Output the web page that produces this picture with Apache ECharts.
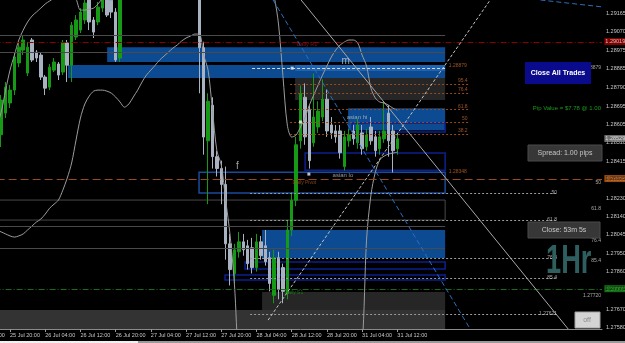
<!DOCTYPE html>
<html><head><meta charset="utf-8">
<script src="https://cdn.jsdelivr.net/npm/echarts@6/dist/echarts.min.js"></script>
<style>html,body{margin:0;padding:0;background:#000;}#c{width:625px;height:343px;}</style>
</head><body><div id="c"></div>
<script>
// ---------- DATA ----------
const xTickLabels = ['25 Jul 12:00','25 Jul 20:00','26 Jul 04:00','26 Jul 12:00','26 Jul 20:00','27 Jul 04:00','27 Jul 12:00','27 Jul 20:00','28 Jul 04:00','28 Jul 12:00','28 Jul 20:00','31 Jul 04:00','31 Jul 12:00'];
const yTicks = [1.29165,1.29070,1.28975,1.28885,1.28790,1.28695,1.28605,1.28510,1.28415,1.28325,1.28230,1.28140,1.28045,1.27950,1.27860,1.27770,1.27670,1.27580];
const openP = [1.28560,1.28600,1.28580,1.28620,1.28590,1.28560,1.28551,1.28660,1.28711,1.28776,
 1.28913,1.28978,1.28862,1.29029,1.28968,1.28953,1.28842,1.28791,1.28877,1.28908,
 1.28867,1.29014,1.28902,1.29044,1.29079,1.29130,1.29241,1.29130,1.29120,1.29190,
 1.29246,1.29230,1.29170,1.28938,1.29300,1.29350,1.29330,1.29400,1.29450,1.29420,
 1.29480,1.29520,1.29490,1.29530,1.29560,1.29510,1.29470,1.29500,1.29460,1.29440,
 1.29470,1.29420,1.28990,1.28520,1.28700,1.28440,1.28380,1.28300,1.28000,1.27850,
 1.27960,1.28010,1.27990,1.27980,1.27880,1.28010,1.27990,1.27930,1.27740,1.27930,
 1.27880,1.27750,1.28070,1.28220,1.28520,1.28740,1.28680,1.28510,1.28590,1.28640,
 1.28730,1.28600,1.28570,1.28570,1.28390,1.28520,1.28570,1.28510,1.28560,1.28490,
 1.28590,1.28540,1.28480,1.28530,1.28660,1.28570,1.28480];
const closeP = [1.28600,1.28580,1.28620,1.28590,1.28560,1.28550,1.28726,1.28791,1.28776,1.28943,
 1.28993,1.29029,1.28993,1.28928,1.28938,1.28842,1.28786,1.28892,1.28918,1.28852,
 1.29014,1.28902,1.29104,1.29130,1.29170,1.29216,1.29120,1.29069,1.29195,1.29256,
 1.29155,1.29170,1.28928,1.29307,1.29350,1.29330,1.29400,1.29450,1.29420,1.29480,
 1.29520,1.29490,1.29530,1.29560,1.29510,1.29470,1.29500,1.29460,1.29440,1.29470,
 1.29420,1.28990,1.28539,1.28720,1.28440,1.28380,1.28300,1.28000,1.27870,1.27970,
 1.28010,1.27970,1.27900,1.27880,1.28010,1.27940,1.27910,1.27800,1.27930,1.27770,
 1.27760,1.28070,1.28220,1.28500,1.28760,1.28540,1.28420,1.28640,1.28670,1.28730,
 1.28570,1.28560,1.28540,1.28460,1.28540,1.28550,1.28530,1.28600,1.28480,1.28550,
 1.28520,1.28470,1.28540,1.28570,1.28520,1.28470,1.28530];
const highP = [1.28620,1.28630,1.28650,1.28640,1.28610,1.28590,1.28751,1.28817,1.28802,1.28968,
 1.29014,1.29054,1.29019,1.29039,1.28978,1.28968,1.28852,1.28908,1.28938,1.28918,
 1.29029,1.29029,1.29120,1.29155,1.29190,1.29256,1.29260,1.29145,1.29221,1.29280,
 1.29270,1.29256,1.29190,1.29330,1.29380,1.29390,1.29420,1.29480,1.29490,1.29510,
 1.29550,1.29560,1.29570,1.29590,1.29600,1.29540,1.29530,1.29520,1.29490,1.29500,
 1.29490,1.29440,1.29020,1.28760,1.28740,1.28470,1.28420,1.28390,1.28050,1.28000,
 1.28060,1.28050,1.28020,1.28030,1.28050,1.28040,1.28070,1.27960,1.27970,1.27960,
 1.27900,1.28120,1.28260,1.28540,1.28800,1.28810,1.28700,1.28860,1.28720,1.28830,
 1.28780,1.28640,1.28600,1.28600,1.28570,1.28580,1.28600,1.28630,1.28600,1.28580,
 1.28640,1.28570,1.28570,1.28720,1.28700,1.28600,1.28560];
const lowP = [1.28530,1.28550,1.28560,1.28560,1.28520,1.28510,1.28489,1.28635,1.28685,1.28751,
 1.28892,1.28953,1.28847,1.28918,1.28918,1.28827,1.28751,1.28776,1.28867,1.28827,
 1.28852,1.28817,1.28817,1.29029,1.29064,1.29110,1.29079,1.29039,1.29104,1.29170,
 1.29145,1.29140,1.28918,1.28918,1.29270,1.29290,1.29300,1.29370,1.29390,1.29400,
 1.29450,1.29460,1.29470,1.29500,1.29480,1.29440,1.29430,1.29420,1.29400,1.29410,
 1.29380,1.28760,1.28450,1.28200,1.28380,1.28340,1.28200,1.27920,1.27790,1.27800,
 1.27930,1.27940,1.27870,1.27850,1.27860,1.27920,1.27890,1.27760,1.27700,1.27720,
 1.27700,1.27720,1.28040,1.28190,1.28480,1.28500,1.28380,1.28490,1.28560,1.28620,
 1.28540,1.28530,1.28510,1.28430,1.28370,1.28490,1.28500,1.28480,1.28450,1.28470,
 1.28500,1.28440,1.28450,1.28510,1.28440,1.28360,1.28450];
const bbUpper = [1.28500,1.28510,1.28520,1.28540,1.28570,1.28600,1.28665,1.28776,1.28877,1.28953,
 1.29029,1.29079,1.29120,1.29150,1.29170,1.29190,1.29211,1.29226,1.29240,1.29250,
 1.29255,1.29258,1.29250,1.29235,1.29180,1.29180,1.29185,1.29190,1.29211,1.29240,
 1.29270,1.29300,1.29320,1.29350,1.29380,1.29420,1.29460,1.29500,1.29540,1.29570,
 1.29600,1.29630,1.29650,1.29670,1.29690,1.29700,1.29710,1.29715,1.29720,1.29720,
 1.29720,1.29730,1.29760,1.29780,1.29790,1.29800,1.29800,1.29790,1.29780,1.29760,
 1.29740,1.29710,1.29680,1.29640,1.29580,1.29500,1.29383,1.29320,1.29250,1.29110,
 1.28850,1.28600,1.28539,1.28549,1.28590,1.28635,1.28700,1.28751,1.28802,1.28852,
 1.28898,1.28943,1.28978,1.29004,1.29019,1.29029,1.29029,1.29014,1.28953,1.28898,
 1.28786,1.28736,1.28716,1.28711,1.28700,1.28685,1.28675];
const bbLower = [1.28150,1.28130,1.28110,1.28090,1.28080,1.28070,1.28060,1.28050,1.28040,1.28034,
 1.28040,1.28050,1.28070,1.28090,1.28110,1.28125,1.28150,1.28180,1.28200,1.28221,
 1.28271,1.28332,1.28408,1.28524,1.28635,1.28706,1.28746,1.28771,1.28776,1.28776,
 1.28771,1.28761,1.28741,1.28716,1.28690,1.28706,1.28741,1.28776,1.28817,1.28852,
 1.28877,1.28902,1.28928,1.28948,1.28968,1.28988,1.29004,1.29024,1.29039,1.29049,
 1.29059,1.29059,1.28953,1.28877,1.28675,1.28470,1.28398,1.28221,1.28044,1.27792,
 1.27413,1.27380,1.27360,1.27350,1.27340,1.27330,1.27320,1.27310,1.27300,1.27290,
 1.27280,1.27290,1.27300,1.27320,1.27330,1.27340,1.27350,1.27360,1.27370,1.27380,
 1.27390,1.27400,1.27410,1.27420,1.27430,1.27440,1.27450,1.27460,1.27490,1.28019,
 1.28246,1.28362,1.28423,1.28443,1.28453,1.28458,1.28463];

// zones: [barFrom, barTo, priceTop, priceBottom]
const blueZones = [[30.07,106.86,1.28993,1.28918],[21.18,106.86,1.28903,1.28837],[84.82,106.86,1.28685,1.28574],[65.27,106.86,1.28070,1.27928]];
const blueZoneLight = [[72.77,106.86,1.28903,1.28872]];
const grayZones = [[-0.5,106.86,1.27666,1.27570],[72.77,106.86,1.28837,1.28726],[65.27,106.86,1.27757,1.27666]];
const navyBoxes = [[85.73,106.86,1.28610,1.28564],[75.05,106.86,1.28458,1.28372],[61.41,106.86,1.27908,1.27873],[56.86,106.86,1.27842,1.27817]];
const blueBoxes = [[50.95,106.86,1.28362,1.28256]];
const grayBoxes = [[-0.5,106.86,1.28221,1.28120]];
const grayLevels = [1.29054,1.28968,1.28090,1.27979];
const fibUpper = [1.28807,1.28761,1.28680,1.28615,1.28554];
const fibUpperText = ['95.4','76.4','61.8','50','38.2'];
const fibLowA = [1.28256,1.28120,1.27928,1.27827,1.27646];
const fibLowAText = ['50','61.8','76.4','85.4','1.27621'];
const fibLowB = [1.28307,1.28176,1.28014,1.27913,1.27736];
const fibLowBText = ['50','61.8','76.4','85.4','1.27720'];
const level28879 = 1.28887;
const tagPrices = [1.29019,1.28529,1.28327,1.27771];
const tagTexts = ['1.29019','1.28529','1.28325','1.27771'];
// trend lines: [bar1, price1, bar2, price2]
const trendGray = [[74.14,1.29231,134.82,1.27570]];
const trendDash = [[66.64,1.27615,117.09,1.29231]];
const trendBlue = [[67.77,1.29231,112.55,1.27570],[128.5,1.29231,142.6,1.29196]];
const notesBig = [[84.4,1.28917,'m'],[59.8,1.28388,'f']];
const notesGray = [[84.6,1.28635,'asian hi'],[81.4,1.28342,'asian lo']];
const notesOrange = [[107.8,1.28897,'1.28879'],[107.8,1.28362,'1.28348']];
const notePivot = [[72.3,1.28307,'Daily Pivot']];
const noteR1 = [[73.2,1.29004,'Daily R1']];
const noteS1 = [[70.5,1.27752,'Daily S1']];
const markers = [[72.1,1.28887],[74.0,1.28615],[75.9,1.28352]];

// ---------- CHART ----------
const N = 143, LAST = 96;
const FONT = 'Liberation Sans';
const cats = Array.from({length:N}, (_, i) => String(i));
const candles = openP.map((o, i) => [o, closeP[i], lowP[i], highP[i]]);
const X0 = -0.5, XR = 106.86, XEND = N - 0.5;
const CLEAR = 'rgba(0,0,0,0)';

const area = (list, style) => list.map(z => [{coord:[z[0], z[2]], itemStyle:style}, {coord:[z[1], z[3]]}]);
const seg = (x1, x2, p, style) => [{coord:[x1, p], lineStyle:style}, {coord:[x2, p]}];

const zoneData = [].concat(
  area(grayZones.slice(0,1), {color:'#333333'}),
  area(grayZones.slice(1), {color:'#262626'}),
  area(blueZones, {color:'#0c4b91'}),
  area(blueZoneLight, {color:'#1f62b0'}),
  area(navyBoxes, {color:CLEAR, borderColor:'#0d1f8f', borderWidth:1.5}),
  area(blueBoxes, {color:CLEAR, borderColor:'#1a4a9a', borderWidth:1.5}),
  area(grayBoxes, {color:CLEAR, borderColor:'#484848', borderWidth:1})
);

const hData = [].concat(
  grayLevels.map(p => seg(X0, XR, p, {color:'#4a4a4a', width:1, type:'solid'})),
  fibUpper.map(p => seg(71.64, 112.09, p, {color:'#9a4a18', width:1, type:[2,2]})),
  fibLowA.map(p => seg(62.55, 132.0, p, {color:'#9a9a9a', width:1, type:[2,2]})),
  fibLowB.map(p => seg(68.91, 142.55, p, {color:'#9a9a9a', width:1, type:[2,2]})),
  [seg(63.0, XR, level28879, {color:'#d8d8d8', width:1, type:[3,2]})],
  [seg(XR, 142.55, level28879, {color:'#8a8a8a', width:1, type:[2,2]})],
  [seg(X0, XEND, tagPrices[0], {color:'#8a0000', width:1, type:[6,2,1,2]})],
  [seg(X0, XEND, tagPrices[2], {color:'#9a4a1a', width:1, type:[8,4]})],
  [seg(X0, XEND, tagPrices[3], {color:'#1a6a1a', width:1, type:[6,2,1,2]})]
);

const tagStyles = [
  {backgroundColor:'#a00000', color:'#e8e8e8'},
  {backgroundColor:'#8c8c8c', color:'#f0f0f0'},
  {backgroundColor:'#c0601a', color:'#1a1a1a'},
  {backgroundColor:'#1a8a1a', color:'#101010'}
];

function textSeries(items, lab, z) {
  return {type:'scatter', xAxisIndex:1, yAxisIndex:0, z:z||7, silent:true, clip:false, symbolSize:1, itemStyle:{color:CLEAR},
    data: items.map(d => ({value:[d[0], d[1]], label:Object.assign({formatter:d[2]}, d[3] || {})})),
    label:Object.assign({show:true, position:[0,0], fontFamily:FONT, align:'left', verticalAlign:'middle'}, lab)};
}
function lineSeries(list, style) {
  return list.map(l => ({type:'line', xAxisIndex:1, yAxisIndex:0, z:5, silent:true, showSymbol:false,
    data:[[l[0], l[1]], [l[2], l[3]]], lineStyle:style}));
}
const fibLabel = (vals, texts, x) => vals.map((p, k) => [x, p, texts[k]]);
const tagItems = tagPrices.map((p, k) => [143.15, p, tagTexts[k], tagStyles[k]]);

const option = {
  animation:false,
  backgroundColor:'#000',
  grid:{left:-27.4, right:23, top:0, bottom:14, containLabel:false, outerBoundsMode:'none'},
  xAxis:[
    {type:'category', data:cats, boundaryGap:true,
     axisLine:{show:true, lineStyle:{color:'#8a8a8a'}},
     axisTick:{show:true, alignWithLabel:true, length:3, interval:(i)=> i%8===0 && i<=LAST, lineStyle:{color:'#9a9a9a'}},
     axisLabel:{interval:(i)=> i%8===0 && i<=LAST, formatter:(v,i)=> xTickLabels[i/8] || '', align:'left', color:'#c8c8c8', fontSize:5.5, fontFamily:FONT, margin:3},
     splitLine:{show:false}},
    {type:'value', min:-0.5, max:N-0.5, show:false, gridIndex:0}
  ],
  yAxis:{type:'value', position:'right', min:1.27570, max:1.29231, scale:true,
    axisLine:{show:true, lineStyle:{color:'#8a8a8a'}},
    axisTick:{show:true, customValues:yTicks, length:3, lineStyle:{color:'#9a9a9a'}},
    axisLabel:{customValues:yTicks, formatter:(v)=> v.toFixed(5), color:'#c8c8c8', fontSize:5.5, fontFamily:FONT, margin:4},
    splitLine:{show:false}},
  series:[
    {type:'line', xAxisIndex:1, yAxisIndex:0, data:[], z:1, silent:true,
     markArea:{silent:true, label:{show:false}, data:zoneData}},
    {type:'line', xAxisIndex:1, yAxisIndex:0, data:[], z:2, silent:true,
     markLine:{silent:true, symbol:['none','none'], label:{show:false}, data:hData}},
    {type:'candlestick', xAxisIndex:0, yAxisIndex:0, data:candles, barWidth:3, z:3, clip:true,
     itemStyle:{color:'#169a16', color0:'#a8b2c0', borderColor:'#169a16', borderColor0:'#a8b2c0', borderWidth:1}},
    {type:'line', xAxisIndex:0, yAxisIndex:0, data:bbUpper, z:4, showSymbol:false, smooth:0.3, silent:true, lineStyle:{color:'#9c9c9c', width:1}},
    {type:'line', xAxisIndex:0, yAxisIndex:0, data:bbLower, z:4, showSymbol:false, smooth:0.3, silent:true, lineStyle:{color:'#9c9c9c', width:1}},
    ...lineSeries(trendGray, {color:'#a8a8a8', width:1}),
    ...lineSeries(trendDash, {color:'#c4c4c4', width:1, type:[3,2]}),
    ...lineSeries(trendBlue, {color:'#2a6ebf', width:1, type:[5,3]}),
    {type:'scatter', xAxisIndex:1, yAxisIndex:0, z:6, silent:true, symbol:'rect', symbolSize:3, itemStyle:{color:'#f0f0f0'}, data:markers},
    textSeries(notesBig, {color:'#c8c8c8', fontSize:10, align:'center'}),
    textSeries(notesGray, {color:'#bdbdbd', fontSize:6}),
    textSeries(notesOrange, {color:'#c8662a', fontSize:5}),
    textSeries(notePivot, {color:'#a8541c', fontSize:5}),
    textSeries(noteR1, {color:'#9a1a1a', fontSize:5.5}),
    textSeries(noteS1, {color:'#1a8a1a', fontSize:5}),
    textSeries(fibLabel(fibUpper, fibUpperText, 112.09), {color:'#c8662a', fontSize:5, align:'right', verticalAlign:'bottom'}),
    textSeries(fibLabel(fibLowA, fibLowAText, 132.4), {color:'#d0d0d0', fontSize:5, align:'right', verticalAlign:'middle'}),
    textSeries(fibLabel(fibLowB, fibLowBText, 142.4), {color:'#d0d0d0', fontSize:5, align:'right', verticalAlign:'middle'}),
    textSeries([[142.4, level28879, '1.28879']], {color:'#c8c8c8', fontSize:5, align:'right'}),
    textSeries(tagItems, {fontSize:5.5, padding:[1,2,0,1]}, 20)
  ],
  graphic:[
    {type:'rect', z:100, shape:{x:525, y:62, width:66, height:22}, style:{fill:'#0a0a8c'}},
    {type:'text', z:101, x:558, y:73, style:{text:'Close All Trades', fill:'#ffffff', font:'bold 7px Liberation Sans', align:'center', verticalAlign:'middle', textAlign:'center', textVerticalAlign:'middle'}},
    {type:'text', z:101, x:601, y:108, style:{text:'Pip Value = $7.78 @ 1.00', fill:'#1a9a1a', font:'6px Liberation Sans', align:'right', verticalAlign:'middle', textAlign:'right', textVerticalAlign:'middle'}},
    {type:'rect', z:100, shape:{x:528, y:145, width:74, height:16}, style:{fill:'#373737', stroke:'#4a4a4a', lineWidth:1}},
    {type:'text', z:101, x:565, y:153, style:{text:'Spread: 1.00 pips', fill:'#c8c8c8', font:'7px Liberation Sans', align:'center', verticalAlign:'middle', textAlign:'center', textVerticalAlign:'middle'}},
    {type:'rect', z:100, shape:{x:528, y:222, width:72, height:16}, style:{fill:'#373737', stroke:'#4a4a4a', lineWidth:1}},
    {type:'text', z:101, x:564, y:230, style:{text:'Close: 53m 5s', fill:'#c8c8c8', font:'7px Liberation Sans', align:'center', verticalAlign:'middle', textAlign:'center', textVerticalAlign:'middle'}},
    {type:'text', z:101, x:546, y:262, scaleX:0.68, style:{text:'1Hr', fill:'#2e5e5e', font:'bold 40px Liberation Sans', align:'left', verticalAlign:'middle', textAlign:'left', textVerticalAlign:'middle'}},
    {type:'rect', z:100, shape:{x:575, y:312, width:25, height:16}, style:{fill:'#d4d4d4', stroke:'#a0a0a0', lineWidth:1}},
    {type:'text', z:101, x:587, y:320, style:{text:'off', fill:'#8a8a8a', font:'7px Liberation Sans', align:'center', verticalAlign:'middle', textAlign:'center', textVerticalAlign:'middle'}},
    {type:'rect', z:100, shape:{x:0, y:341, width:138, height:2}, style:{fill:'#f0f0f0'}},
    {type:'rect', z:100, shape:{x:138, y:341, width:487, height:2}, style:{fill:'#9a9a9a'}}
  ]
};
const chart = echarts.init(document.getElementById('c'), null, {renderer:'canvas', width:625, height:343});
chart.setOption(option);
</script></body></html>
